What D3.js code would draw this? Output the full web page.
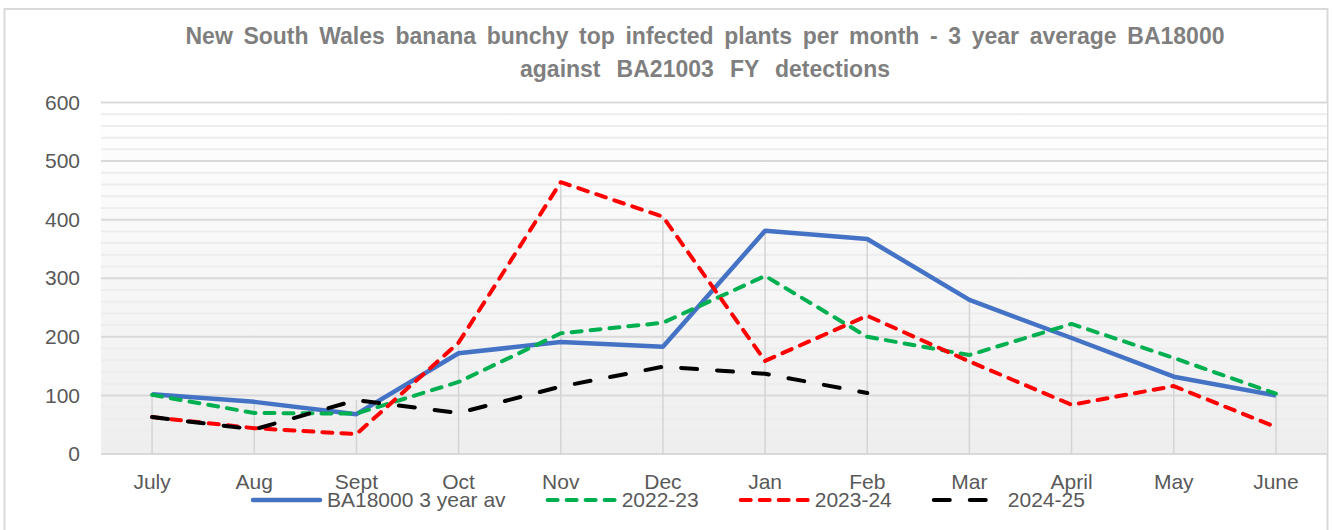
<!DOCTYPE html>
<html>
<head>
<meta charset="utf-8">
<script src="https://cdn.jsdelivr.net/npm/d3@7"></script>
<style>
  html, body { margin: 0; padding: 0; background: #fff; }
  svg text { font-family: "Liberation Sans", Arial, sans-serif; }
</style>
</head>
<body>
<div id="viz"></div>
<script>
// chart data
const months = ["July", "Aug", "Sept", "Oct", "Nov", "Dec", "Jan", "Feb", "Mar", "April", "May", "June"]
const avg3yr = [102, 89, 68, 172, 191, 183, 381, 367, 263, 198, 132, 100]
const fy2223 = [101, 70, 69, 123, 206, 224, 304, 200, 169, 222, 164, 103]
const fy2324 = [63, 44, 34, 190, 464, 405, 159, 236, 158, 84, 116, 46]
const fy2425 = [63, 42, 92, 70, 115, 149, 137, 104]
const seriesNames = ["BA18000 3 year av", "2022-23", "2023-24", "2024-25"]
const yTicks = [0, 100, 200, 300, 400, 500, 600]
const titleLines = [
  "New South Wales banana bunchy top infected plants per month - 3 year average BA18000",
  "against BA21003 FY detections"
]

const width = 1333
const height = 530

const series = [
  { name: seriesNames[0], values: avg3yr, color: "#4472C4", dash: null },
  { name: seriesNames[1], values: fy2223, color: "#00B050", dash: "10,9" },
  { name: seriesNames[2], values: fy2324, color: "#FF0000", dash: "10,9" },
  { name: seriesNames[3], values: fy2425, color: "#000000", dash: "16,20" }
]

const svg = d3.select("#viz").append("svg")
  .attr("width", width)
  .attr("height", height)

// chart border
svg.append("rect")
  .attr("x", 4.5).attr("y", 9)
  .attr("width", 1323).attr("height", 540)
  .attr("fill", "#fff")
  .attr("stroke", "#d9d9d9")
  .attr("stroke-width", 2)

const plot = { left: 101, right: 1327, top: 102.5, bottom: 454 }

const x = d3.scaleBand()
  .domain(months)
  .range([plot.left, plot.right])

const y = d3.scaleLinear()
  .domain([0, 600])
  .range([plot.bottom, plot.top])

// plot background gradient
const grad = svg.append("defs").append("linearGradient")
  .attr("id", "bg")
  .attr("x1", 0).attr("y1", 0).attr("x2", 0).attr("y2", 1)
grad.append("stop").attr("offset", "0%").attr("stop-color", "#ffffff")
grad.append("stop").attr("offset", "100%").attr("stop-color", "#eeeeee")

svg.append("rect")
  .attr("x", plot.left).attr("y", plot.top)
  .attr("width", plot.right - plot.left).attr("height", plot.bottom - plot.top)
  .attr("fill", "url(#bg)")

// minor gridlines every 20
const minor = d3.range(0, 601, 20).filter(v => v % 100 !== 0)
svg.append("g").selectAll("line")
  .data(minor)
  .enter().append("line")
    .attr("x1", plot.left).attr("x2", plot.right)
    .attr("y1", d => y(d)).attr("y2", d => y(d))
    .attr("stroke", "#ededed")
    .attr("stroke-width", 2)

// major gridlines
svg.append("g").selectAll("line")
  .data(yTicks)
  .enter().append("line")
    .attr("x1", plot.left).attr("x2", plot.right)
    .attr("y1", d => y(d)).attr("y2", d => y(d))
    .attr("stroke", "#d9d9d9")
    .attr("stroke-width", 2)

// drop lines from highest point to axis
const cx = d => x(d) + x.bandwidth() / 2
svg.append("g").selectAll("line")
  .data(months)
  .enter().append("line")
    .attr("x1", d => cx(d)).attr("x2", d => cx(d))
    .attr("y1", (d, i) => y(d3.max(series, s => s.values[i] ?? 0)))
    .attr("y2", y(0))
    .attr("stroke", "#d4d4d4")
    .attr("stroke-width", 1.5)

// y axis labels
const yAxis = svg.append("g")
  .attr("transform", `translate(${plot.left - 10},0)`)
  .call(d3.axisLeft(y).tickValues(yTicks).tickSize(0).tickPadding(11))
yAxis.select(".domain").remove()
yAxis.selectAll("text")
  .attr("fill", "#595959")
  .style("font-size", "21px")

// x axis labels
const xAxis = svg.append("g")
  .attr("transform", `translate(0,${plot.bottom})`)
  .call(d3.axisBottom(x).tickSize(0).tickPadding(20))
xAxis.select(".domain").remove()
xAxis.selectAll("text")
  .attr("fill", "#595959")
  .style("font-size", "21px")

// series lines
const line = d3.line()
  .x((d, i) => cx(months[i]))
  .y(d => y(d))

svg.append("g").selectAll("path")
  .data(series)
  .enter().append("path")
    .attr("d", d => line(d.values))
    .attr("fill", "none")
    .attr("stroke", d => d.color)
    .attr("stroke-width", d => d.dash ? 4 : 4.5)
    .attr("stroke-dasharray", d => d.dash)
    .attr("stroke-linecap", d => d.dash ? "round" : "butt")
    .attr("stroke-linejoin", "round")

// legend, entries placed one after another
const legend = svg.append("g").selectAll("g")
  .data(series)
  .enter().append("g")

legend.append("line")
  .attr("x1", 2).attr("x2", 69)
  .attr("stroke", d => d.color)
  .attr("stroke-width", d => d.dash ? 4 : 4.5)
  .attr("stroke-dasharray", d => d.dash)
  .attr("stroke-linecap", "round")

legend.append("text")
  .attr("x", 76)
  .attr("y", 7)
  .attr("fill", "#595959")
  .style("font-size", "21px")
  .text(d => d.name)

let lx = 251
legend.each(function() {
  const g = d3.select(this)
  g.attr("transform", `translate(${lx},500)`)
  lx += 76 + g.select("text").node().getComputedTextLength() + 40
})

// title, words spread out a little like the original
const titleWidths = [1039, 370]
const titleBase = [44, 77]
titleLines.forEach((t, i) => {
  const el = svg.append("text")
    .attr("x", 705)
    .attr("y", titleBase[i])
    .attr("text-anchor", "middle")
    .attr("fill", "#7f7f7f")
    .style("font-size", "23px")
    .style("font-weight", "bold")
    .text(t)
  const w = el.node().getComputedTextLength()
  const gaps = t.split(" ").length - 1
  if (w < titleWidths[i]) {
    el.style("word-spacing", ((titleWidths[i] - w) / gaps) + "px")
  }
})
</script>
</body>
</html>
